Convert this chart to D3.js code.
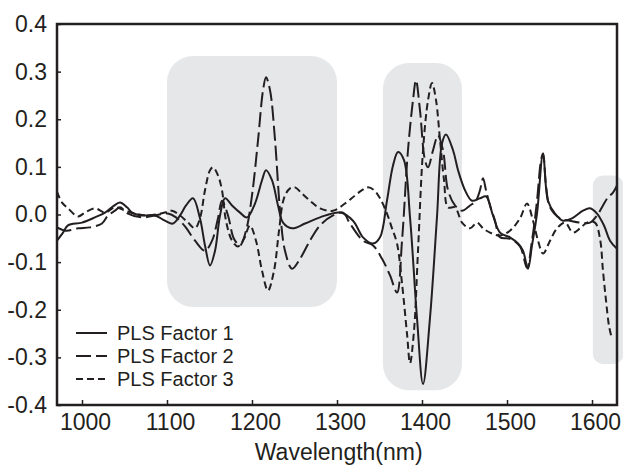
<!DOCTYPE html>
<html>
<head>
<meta charset="utf-8">
<script src="https://cdn.jsdelivr.net/npm/d3@7"></script>
<style>
  body { margin: 0; background: #fff; }
  text { font-family: "Liberation Sans", Arial, sans-serif; fill: #231f20; }
</style>
</head>
<body>
<div id="chart"></div>
<script>
// tick labels
var xTicks = [1000, 1100, 1200, 1300, 1400, 1500, 1600];
var yTicks = [-0.4, -0.3, -0.2, -0.1, 0.0, 0.1, 0.2, 0.3, 0.4];

// shaded wavelength regions [from, to, top, bottom]
var regions = [
    [1100, 1300, 0.333, -0.194],
    [1354, 1447, 0.318, -0.369],
    [1601, 1637, 0.082, -0.314]
];

var seriesNames = ["PLS Factor 1", "PLS Factor 2", "PLS Factor 3"];

// [wavelength, loading]
var factor1 = [
    [970.6,-0.055],[977.7,-0.038],[983.5,-0.023],[1000,-0.017],[1015.3,-0.006],[1027.1,0.004],
    [1036.5,0.017],[1044.7,0.025],[1053,0.015],[1058.8,0.004],[1070.6,-0.002],[1085.9,-0.002],
    [1097.6,-0.013],[1107.1,-0.019],[1115.3,-0.002],[1122.4,0.019],[1130.6,0.034],[1138.8,-0.008],
    [1144.7,-0.065],[1150.6,-0.107],[1156.5,-0.076],[1162.4,-0.002],[1168.3,0.034],[1176.5,0.019],
    [1185.9,0.004],[1194.1,-0.006],[1203.5,0.023],[1211.8,0.072],[1216.5,0.093],[1223.5,0.072],
    [1230.6,0.019],[1236.5,-0.017],[1247.1,-0.029],[1262.4,-0.019],[1280,-0.006],[1303.5,0.004],
    [1318.8,-0.013],[1330.6,-0.048],[1342.4,-0.061],[1350.6,-0.048],[1358.8,0.029],[1365.9,0.103],
    [1371.8,0.131],[1378.8,0.114],[1385.9,-0.006],[1394.1,-0.217],[1401.2,-0.356],[1409.4,-0.217],
    [1417.6,-0.006],[1423.5,0.149],[1428.2,0.168],[1436.5,0.135],[1442.4,0.093],[1450.6,0.051],
    [1458.8,0.029],[1468.2,0.034],[1475.3,0.038],[1483.5,-0.002],[1491.8,-0.038],[1503.5,-0.048],
    [1513,-0.061],[1518.8,-0.076],[1524.7,-0.114],[1529.4,-0.065],[1535.3,0.002],[1542.4,0.128],
    [1548.2,0.029],[1556.5,0.002],[1565.9,-0.013],[1576.5,-0.008],[1589.4,0.008],[1597.6,0.013],
    [1605.9,0.002],[1614.1,-0.023],[1621.2,-0.055],[1629.4,-0.072]
];

var factor2 = [
    [970.6,-0.027],[981.2,-0.034],[995.3,-0.029],[1009.4,-0.027],[1023.5,-0.019],[1030.6,-0.002],
    [1038.8,0.008],[1044.7,0.015],[1054.1,0.002],[1070.6,-0.006],[1085.9,-0.002],[1101.2,0.002],
    [1110.6,-0.006],[1121.2,-0.025],[1133,-0.055],[1144.7,-0.076],[1153,-0.055],[1160,-0.008],
    [1164.7,0.029],[1171.8,-0.002],[1178.8,-0.051],[1185.9,-0.065],[1193,-0.034],[1200,0.040],
    [1207.1,0.156],[1213,0.261],[1216.5,0.288],[1221.2,0.261],[1227.1,0.156],[1233,0.008],
    [1238.8,-0.076],[1247.1,-0.114],[1256.5,-0.093],[1268.2,-0.055],[1280,-0.023],[1295.3,-0.002],
    [1307.1,0.004],[1315.3,-0.019],[1330.6,-0.055],[1342.4,-0.065],[1353,-0.093],[1362.4,-0.128],
    [1370.6,-0.164],[1376.5,-0.055],[1383.5,0.135],[1389.4,0.240],[1392.9,0.282],[1397.6,0.219],
    [1403.5,0.114],[1407.1,0.099],[1413,0.135],[1418.8,0.166],[1424.7,0.135],[1430.6,0.051],
    [1438.8,0.019],[1447.1,0.008],[1456.5,0.019],[1463.5,0.029],[1468.2,0.051],[1471.8,0.076],
    [1475.3,0.051],[1480,0.019],[1485.9,-0.013],[1491.8,-0.048],[1503.5,-0.051],[1515.3,-0.067],
    [1523.5,-0.112],[1529.4,-0.055],[1535.3,0.029],[1540,0.114],[1542.4,0.128],[1545.9,0.061],
    [1550.6,0.015],[1562.4,-0.008],[1574.1,-0.013],[1585.9,-0.017],[1597.6,-0.017],[1605.9,-0.002],
    [1612.9,0.019],[1618.8,0.036],[1624.7,0.046],[1629.4,0.061]
];

var factor3 = [
    [970.6,0.048],[976.5,0.025],[983.5,0.013],[995.3,-0.004],[1003.5,0.004],[1015.3,0.013],
    [1027.1,0.004],[1038.8,0.015],[1050.6,0.008],[1062.4,0.002],[1077.7,-0.002],[1097.6,0.004],
    [1105.9,0.008],[1115.3,-0.002],[1124.7,-0.017],[1133,-0.029],[1138.8,-0.008],[1144.7,0.051],
    [1150.6,0.093],[1154.1,0.099],[1160,0.082],[1164.7,0.051],[1169.4,-0.013],[1176.5,-0.055],
    [1183.5,-0.067],[1190.6,-0.051],[1197.6,-0.023],[1204.7,-0.055],[1211.8,-0.118],[1218.8,-0.160],
    [1225.9,-0.118],[1231.8,-0.034],[1237.6,0.034],[1244.7,0.055],[1250.6,0.057],[1258.8,0.044],
    [1268.2,0.029],[1280,0.013],[1295.3,0.008],[1309.4,0.023],[1321.2,0.040],[1329.4,0.051],
    [1336.5,0.057],[1343.6,0.051],[1350.6,0.034],[1358.8,0.002],[1364.7,-0.029],[1370.6,-0.061],
    [1376.5,-0.145],[1382.4,-0.251],[1385.9,-0.312],[1390.6,-0.244],[1395.3,-0.076],[1401.2,0.135],
    [1407.1,0.240],[1411.8,0.276],[1416.5,0.240],[1421.2,0.156],[1425.9,0.072],[1430.6,0.015],
    [1438.8,0.015],[1447.1,-0.017],[1456.5,-0.029],[1464.7,-0.017],[1471.8,-0.029],[1480,-0.038],
    [1491.8,-0.044],[1503.5,-0.034],[1515.3,-0.008],[1523.5,0.023],[1530.6,-0.013],[1536.5,-0.055],
    [1542.4,-0.082],[1550.6,-0.055],[1558.8,-0.029],[1568.2,-0.017],[1577.6,-0.038],[1585.9,-0.029],
    [1594.1,-0.017],[1603.5,-0.017],[1609.4,-0.051],[1612.9,-0.118],[1616.5,-0.181],[1620,-0.234],
    [1623.5,-0.261]
];

var margin = {top: 24, right: 6, bottom: 61, left: 57},
    width = 623 - margin.left - margin.right,
    height = 466 - margin.top - margin.bottom;

var svg = d3.select("#chart")
    .append("svg")
    .attr("width", 623)
    .attr("height", 466)
    .append("g")
    .attr("transform", "translate(" + margin.left + "," + margin.top + ")");

var x = d3.scaleLinear()
    .domain([970.6, 1629.4])
    .range([0, width]);

var y = d3.scaleLinear()
    .domain([-0.4, 0.4])
    .range([height, 0]);

// grey highlight boxes
svg.selectAll(".region")
    .data(regions)
    .enter()
    .append("rect")
    .attr("class", "region")
    .attr("x", function(d) { return x(d[0]); })
    .attr("y", function(d) { return y(d[2]); })
    .attr("width", function(d) { return x(d[1]) - x(d[0]); })
    .attr("height", function(d) { return y(d[3]) - y(d[2]); })
    .attr("rx", function(d, i) { return i == 2 ? 10 : 26; })
    .attr("fill", "#e6e7e8");

var line = d3.line()
    .curve(d3.curveCatmullRom.alpha(0.5))
    .x(function(d) { return x(d[0]); })
    .y(function(d) { return y(d[1]); });

var dashes = ["none", "15,5", "7,4"];
var allSeries = [factor1, factor2, factor3];

svg.selectAll(".factor")
    .data(allSeries)
    .enter()
    .append("path")
    .attr("class", "factor")
    .attr("fill", "none")
    .attr("stroke", "#231f20")
    .attr("stroke-width", 2)
    .attr("stroke-dasharray", function(d, i) { return dashes[i]; })
    .attr("d", line);

// frame
svg.append("rect")
    .attr("width", width)
    .attr("height", height)
    .attr("fill", "none")
    .attr("stroke", "#231f20")
    .attr("stroke-width", 2.5);

// axes, ticks pointing inward
var xAxis = svg.append("g")
    .attr("transform", "translate(0," + height + ")")
    .call(d3.axisBottom(x).tickValues(xTicks).tickSizeInner(-5).tickSizeOuter(0).tickPadding(9)
        .tickFormat(d3.format("d")));

var yAxis = svg.append("g")
    .call(d3.axisLeft(y).tickValues(yTicks).tickSizeInner(-4).tickSizeOuter(0).tickPadding(10)
        .tickFormat(function(d) { return d3.format(".1f")(d).replace("\u2212", "-"); }));

[xAxis, yAxis].forEach(function(a) {
    a.select(".domain").remove();
    a.selectAll("line").attr("stroke", "#231f20").attr("stroke-width", 1.5);
    a.selectAll("text")
        .style("font-size", "23px")
        .style("font-family", "'Liberation Sans', Arial, sans-serif")
        .attr("fill", "#231f20");
});
xAxis.selectAll("text").attr("dx", 3);

svg.append("text")
    .attr("x", x(1302))
    .attr("y", height + 55)
    .attr("text-anchor", "middle")
    .style("font-size", "23px")
    .text("Wavelength(nm)");

// legend
var legend = svg.selectAll(".legend")
    .data(seriesNames)
    .enter()
    .append("g")
    .attr("class", "legend")
    .attr("transform", function(d, i) { return "translate(19," + (309 + i * 23) + ")"; });

legend.append("line")
    .attr("x1", 0)
    .attr("x2", 31)
    .attr("stroke", "#231f20")
    .attr("stroke-width", 2)
    .attr("stroke-dasharray", function(d, i) { return dashes[i]; });

legend.append("text")
    .attr("x", 41)
    .attr("dy", "0.36em")
    .style("font-size", "20px")
    .text(function(d) { return d; });
</script>
</body>
</html>
